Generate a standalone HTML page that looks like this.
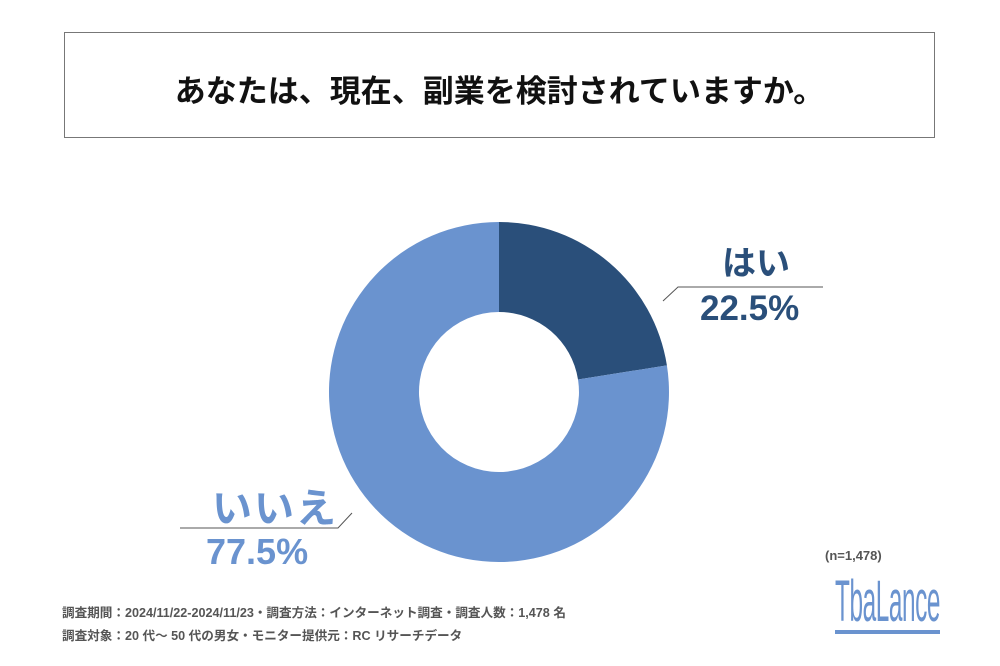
<!DOCTYPE html>
<html><head><meta charset="utf-8"><style>
body{margin:0;width:1000px;height:666px;background:#fff;overflow:hidden;position:relative;font-family:"Liberation Sans","Noto Sans CJK JP",sans-serif}
.box{position:absolute;left:64px;top:32px;width:871px;height:106px;border:1.5px solid #777;box-sizing:border-box}
.t{position:absolute;left:64px;top:66px;width:871px;text-align:center;font-size:31px;font-weight:bold;color:#111}
.l{position:absolute;font-weight:bold}
.f{position:absolute;left:62px;font-size:12.6px;color:#555;font-weight:bold}
</style></head><body>
<div class="box"></div>
<div class="t">あなたは、現在、副業を検討されていますか。</div>
<svg width="1000" height="666" style="position:absolute;left:0;top:0">
<path d="M499 222 A170 170 0 0 1 666.9 365.4 L578 379.5 A80 80 0 0 0 499 312 Z" fill="#2a4f7a"/>
<path d="M666.9 365.4 A170 170 0 1 1 499 222 L499 312 A80 80 0 1 0 578 379.5 Z" fill="#6a93cf"/>
<polyline points="663,301 678,287 823,287" fill="none" stroke="#555" stroke-width="1"/>
<polyline points="180,528 338,528 352,513" fill="none" stroke="#555" stroke-width="1"/>
</svg>
<div class="l" style="left:722px;top:236px;font-size:34px;color:#2a4f7a">はい</div>
<div class="l" style="left:700px;top:289px;font-size:35px;color:#2a4f7a">22.5%</div>
<div class="l" style="left:212px;top:476px;font-size:40px;color:#6a93cf;letter-spacing:2px">いいえ</div>
<div class="l" style="left:206px;top:531px;font-size:36px;color:#6a93cf">77.5%</div>
<div class="l" style="left:825px;top:548px;font-size:13px;color:#555">(n=1,478)</div>
<div class="l" style="left:835px;top:574px;font-size:58px;color:#6a93cf;transform:scaleX(0.42);transform-origin:left;letter-spacing:-1px;font-weight:normal;border-bottom:4px solid #6a93cf;line-height:56px">TbaLance</div>
<div class="f" style="top:602px">調査期間：2024/11/22-2024/11/23・調査方法：インターネット調査・調査人数：1,478 名</div>
<div class="f" style="top:625px">調査対象：20 代～ 50 代の男女・モニター提供元：RC リサーチデータ</div>
</body></html>
